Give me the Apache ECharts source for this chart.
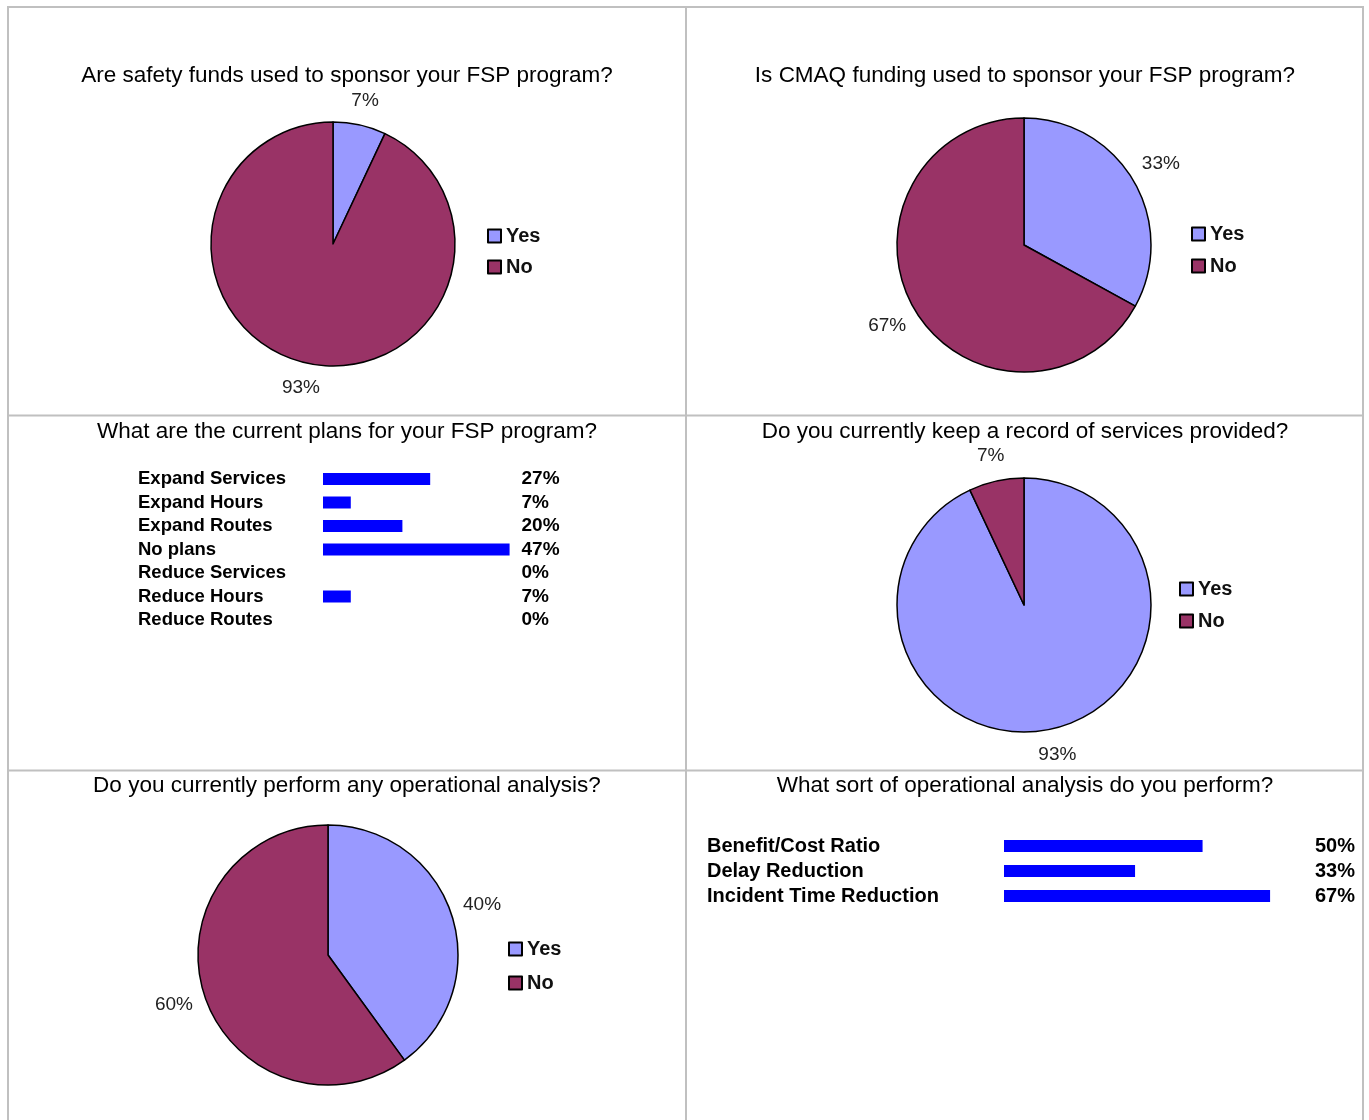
<!DOCTYPE html>
<html>
<head>
<meta charset="utf-8">
<script src="https://cdn.jsdelivr.net/npm/echarts@6/dist/echarts.min.js"></script>
<style>
html,body{margin:0;padding:0;background:#fff;}
#c{width:1369px;height:1120px;}
</style>
</head>
<body>
<div id="c"></div>
<script>
// ---- data ----
const panelTitles = [
  'Are safety funds used to sponsor your FSP program?',
  'Is CMAQ funding used to sponsor your FSP program?',
  'What are the current plans for your FSP program?',
  'Do you currently keep a record of services provided?',
  'Do you currently perform any operational analysis?',
  'What sort of operational analysis do you perform?'
];
const pieNames = ['Yes', 'No'];
const safetyFunds = [7, 93];
const cmaqFunding = [33, 67];
const recordKept = [93, 7];
const opAnalysis = [40, 60];
const planCats = ['Expand Services', 'Expand Hours', 'Expand Routes', 'No plans', 'Reduce Services', 'Reduce Hours', 'Reduce Routes'];
const planPct = [27, 7, 20, 47, 0, 7, 0];
const analysisCats = ['Benefit/Cost Ratio', 'Delay Reduction', 'Incident Time Reduction'];
const analysisPct = [50, 33, 67];

// ---- styling ----
const FONT = "'Liberation Sans', Arial, sans-serif";
const YES = '#9999FF', NO = '#993366', BAR = '#0000FF', GRIDC = '#c0c0c0';

const chart = echarts.init(document.getElementById('c'), null, {renderer: 'canvas'});

function pieData(vals) {
  return pieNames.map((n, i) => ({name: n, value: vals[i], itemStyle: {color: i === 0 ? YES : NO}}));
}
function pieSeries(vals, center, r) {
  return {
    type: 'pie', center: center, radius: r, startAngle: 90, clockwise: true,
    data: pieData(vals), label: {show: false}, labelLine: {show: false},
    itemStyle: {borderColor: '#000', borderWidth: 1.5},
    emphasis: {disabled: true}, silent: true, animation: false
  };
}
function pieLabelSeries(vals, center, r, d) {
  return {
    type: 'pie', center: center, radius: [r, r + 2 * d], startAngle: 90, clockwise: true,
    data: pieNames.map((n, i) => ({name: n, value: vals[i]})),
    itemStyle: {color: 'rgba(0,0,0,0)', borderWidth: 0},
    label: {show: true, position: 'inside', formatter: '{c}%', color: '#222', fontSize: 19, fontFamily: FONT},
    labelLine: {show: false}, emphasis: {disabled: true}, silent: true, animation: false,
    legendHoverLink: false
  };
}
function title(text, x, y) {
  return {text: text, left: x, top: y, textAlign: 'center', padding: 0,
    textStyle: {fontFamily: FONT, fontSize: 22.5, fontWeight: 'normal', color: '#000'}};
}
function legend(x, y, gap) {
  return {
    orient: 'vertical', left: x, top: y, padding: 0, itemWidth: 13, itemHeight: 13,
    itemGap: gap, icon: 'rect', data: pieNames, selectedMode: false,
    itemStyle: {borderColor: '#000', borderWidth: 2},
    textStyle: {fontFamily: FONT, fontSize: 20, fontWeight: 'bold', color: '#111', lineHeight: 19}
  };
}
const catStyle = (size) => ({fontFamily: FONT, fontSize: size, fontWeight: 'bold', color: '#000', interval: 0});

const option = {
  backgroundColor: '#fff',
  animation: false,
  title: [
    title(panelTitles[0], 347, 64),
    title(panelTitles[1], 1025, 64),
    title(panelTitles[2], 347, 420),
    title(panelTitles[3], 1025, 420),
    title(panelTitles[4], 347, 774),
    title(panelTitles[5], 1025, 774)
  ],
  legend: [
    legend(487, 226, 11),
    legend(1191, 224, 12),
    legend(1179, 579, 12),
    legend(508, 939, 14)
  ],
  grid: [
    {left: 323, top: 467.25, width: 198.5, height: 164.5},
    {left: 1004, top: 833.5, width: 278, height: 75}
  ],
  xAxis: [
    {gridIndex: 0, type: 'value', min: 0, max: 50, show: false},
    {gridIndex: 1, type: 'value', min: 0, max: 70, show: false}
  ],
  yAxis: [
    {gridIndex: 0, type: 'category', data: planCats, inverse: true, position: 'left',
      axisLine: {show: false}, axisTick: {show: false}, splitLine: {show: false},
      axisLabel: Object.assign({margin: 185, align: 'left'}, catStyle(18.5))},
    {gridIndex: 0, type: 'category', data: planPct.map(v => v + '%'), inverse: true, position: 'right',
      axisLine: {show: false}, axisTick: {show: false}, splitLine: {show: false},
      axisLabel: Object.assign({margin: 0, align: 'left'}, catStyle(19))},
    {gridIndex: 1, type: 'category', data: analysisCats, inverse: true, position: 'left',
      axisLine: {show: false}, axisTick: {show: false}, splitLine: {show: false},
      axisLabel: Object.assign({margin: 297, align: 'left'}, catStyle(20))},
    {gridIndex: 1, type: 'category', data: analysisPct.map(v => v + '%'), inverse: true, position: 'right',
      axisLine: {show: false}, axisTick: {show: false}, splitLine: {show: false},
      axisLabel: Object.assign({margin: 73, align: 'right'}, catStyle(20))}
  ],
  series: [
    pieSeries(safetyFunds, [333, 244], 122),
    pieSeries(cmaqFunding, [1024, 245], 127),
    pieSeries(recordKept, [1024, 605], 127),
    pieSeries(opAnalysis, [328, 955], 130),
    pieLabelSeries(safetyFunds, [333, 244], 122, 22),
    pieLabelSeries(cmaqFunding, [1024, 245], 127, 29),
    pieLabelSeries(recordKept, [1024, 605], 127, 23),
    pieLabelSeries(opAnalysis, [328, 955], 130, 29),
    {type: 'bar', xAxisIndex: 0, yAxisIndex: 0, data: planPct, barWidth: 12,
      itemStyle: {color: BAR}, silent: true},
    {type: 'bar', xAxisIndex: 1, yAxisIndex: 2, data: analysisPct, barWidth: 12,
      itemStyle: {color: BAR}, silent: true}
  ],
  graphic: [
    {type: 'rect', shape: {x: 8, y: 7, width: 1355, height: 1125}, style: {fill: 'none', stroke: GRIDC, lineWidth: 2}, silent: true},
    {type: 'line', shape: {x1: 686, y1: 7, x2: 686, y2: 1120}, style: {stroke: GRIDC, lineWidth: 2}, silent: true},
    {type: 'line', shape: {x1: 8, y1: 415.5, x2: 1363, y2: 415.5}, style: {stroke: GRIDC, lineWidth: 2}, silent: true},
    {type: 'line', shape: {x1: 8, y1: 770.5, x2: 1363, y2: 770.5}, style: {stroke: GRIDC, lineWidth: 2}, silent: true}
  ]
};
chart.setOption(option);
</script>
</body>
</html>
